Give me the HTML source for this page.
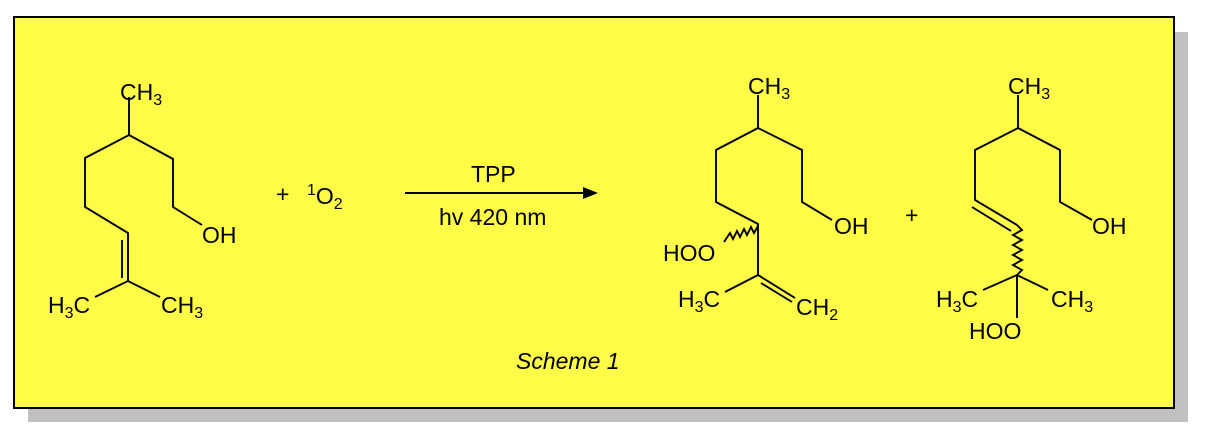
<!DOCTYPE html>
<html><head><meta charset="utf-8"><style>
html,body{margin:0;padding:0;background:#fff;width:1205px;height:437px;overflow:hidden}
svg{display:block}
text{font-family:"Liberation Sans",sans-serif;font-size:23px;fill:#000}
</style></head><body>
<svg width="1205" height="437" viewBox="0 0 1205 437">
<rect x="28" y="32" width="1160" height="390" fill="#c0c0c0"/>
<rect x="14" y="17" width="1160" height="391" fill="#fffb47" stroke="#000" stroke-width="2"/>
<g stroke="#000" stroke-width="1.9" fill="none">
<polyline points="129,97 129,135 85,158 85,207 128,233 128,281"/>
<line x1="122" y1="240" x2="122" y2="278"/>
<polyline points="95,297 128,281 160,297"/>
<polyline points="129,135 173,159 173,207 202,225"/>
<line x1="405" y1="193" x2="585" y2="193"/>
<polyline points="758,95 758,128 716,150 716,202 758,224 758,275"/>
<polyline points="758,128 802,150 802,202 832,220"/>
<polyline points="725,292 758,275 795,298"/>
<line x1="761" y1="283" x2="792" y2="302"/>
<polyline points="758,226 754,233 751,227 747,235 744,229 740,237 737,231 733,239 730,233 724,242"/>
<polyline points="1018,95 1018,128 975,150 975,200 1017,225"/>
<line x1="972" y1="207" x2="1011" y2="231"/>
<polyline points="1018,128 1060,150 1060,202 1092,220"/>
<polyline points="1017,225 1022,230 1013,235 1022,240 1013,245 1022,250 1013,255 1022,260 1013,265 1022,270 1017,275"/>
<polyline points="983,290 1017,275 1048,290"/>
<line x1="1017" y1="275" x2="1017" y2="318"/>
</g>
<polygon points="583,187 598,193 583,199" fill="#000"/>
<text x="120" y="100">CH<tspan font-size="16" dy="5">3</tspan></text>
<text x="202" y="243">OH</text>
<text x="48" y="313">H<tspan font-size="16" dy="5">3</tspan><tspan dy="-5">C</tspan></text>
<text x="161" y="313">CH<tspan font-size="16" dy="5">3</tspan></text>
<text x="276" y="202">+</text>
<text x="307" y="204"><tspan font-size="16" dy="-9">1</tspan><tspan dy="9">O</tspan><tspan font-size="16" dy="5">2</tspan></text>
<text x="471" y="182">TPP</text>
<text x="439" y="225">hv 420 nm</text>
<text x="516" y="369" font-style="italic" font-size="24">Scheme 1</text>
<text x="748" y="94">CH<tspan font-size="16" dy="5">3</tspan></text>
<text x="834" y="234">OH</text>
<text x="663" y="261">HOO</text>
<text x="678" y="307">H<tspan font-size="16" dy="5">3</tspan><tspan dy="-5">C</tspan></text>
<text x="796" y="315">CH<tspan font-size="16" dy="5">2</tspan></text>
<text x="905" y="223">+</text>
<text x="1008" y="94">CH<tspan font-size="16" dy="5">3</tspan></text>
<text x="1092" y="234">OH</text>
<text x="936" y="307">H<tspan font-size="16" dy="5">3</tspan><tspan dy="-5">C</tspan></text>
<text x="1051" y="307">CH<tspan font-size="16" dy="5">3</tspan></text>
<text x="969" y="339">HOO</text>
</svg>
</body></html>
